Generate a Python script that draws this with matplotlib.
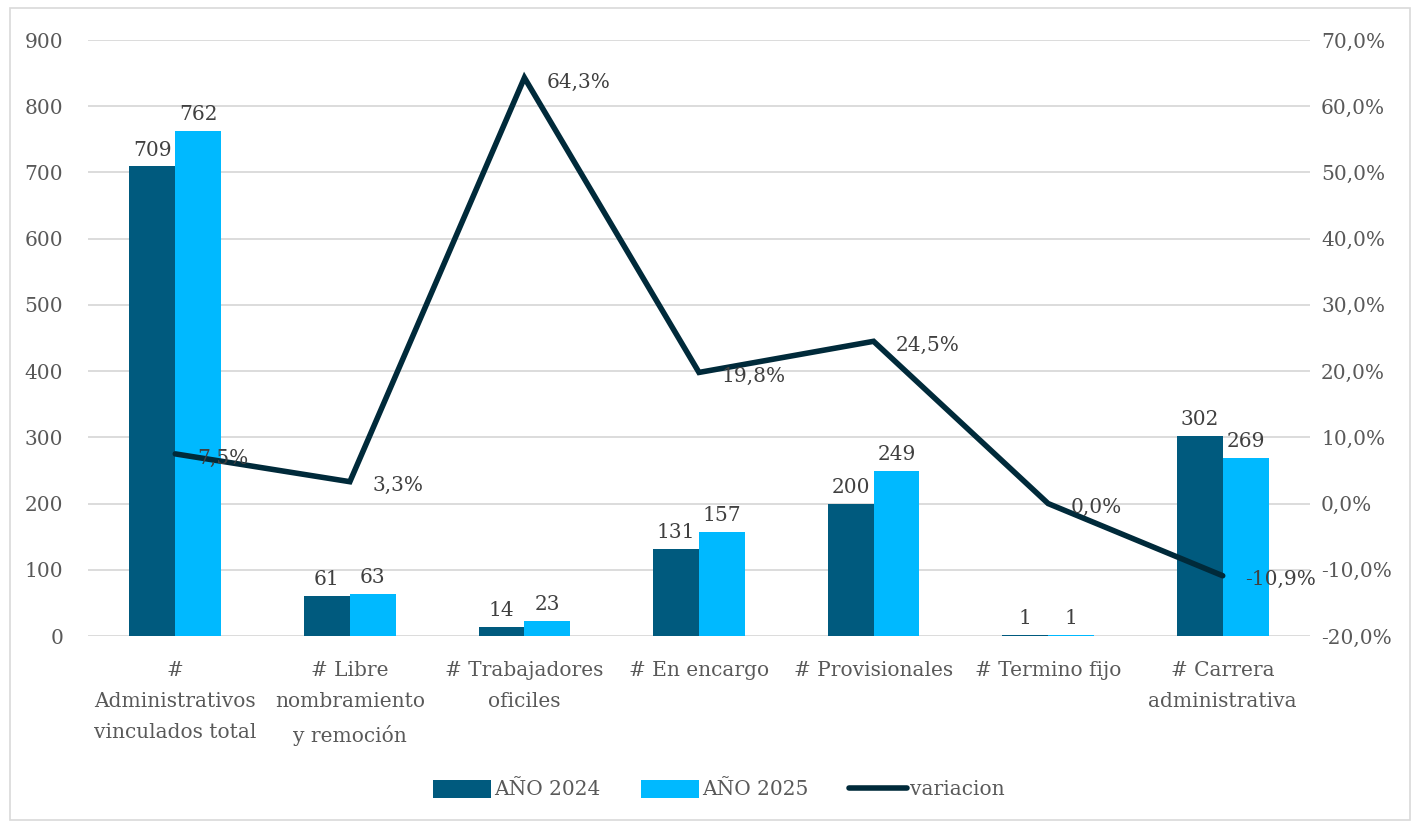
import matplotlib.pyplot as plt
import numpy as np
from matplotlib.patches import Rectangle

categories = [
    "#\nAdministrativos\nvinculados total",
    "# Libre\nnombramiento\ny remoción",
    "# Trabajadores\noficiles",
    "# En encargo",
    "# Provisionales",
    "# Termino fijo",
    "# Carrera\nadministrativa",
]
anio_2024 = [709, 61, 14, 131, 200, 1, 302]
anio_2025 = [762, 63, 23, 157, 249, 1, 269]
variacion = [7.5, 3.3, 64.3, 19.8, 24.5, 0.0, -10.9]

c_2024 = '#005A7E'
c_2025 = '#00B9FF'
c_line = '#002A3A'
c_text = '#595959'
c_grid = '#D9D9D9'
fs = 14.5

plt.rcParams['font.family'] = ['DejaVu Serif']
plt.rcParams['font.size'] = fs

fig = plt.figure(figsize=(14.15, 8.25), dpi=100)
fig.patches.append(Rectangle((10 / 1415, 5 / 825), 1400 / 1415, 812 / 825,
                             transform=fig.transFigure, fill=False,
                             edgecolor=c_grid, linewidth=1.2))

ax = fig.add_axes([88 / 1415, 1 - 636 / 825, 1222 / 1415, 596 / 825])
x = np.arange(len(categories))
w = 0.263

b1 = ax.bar(x - w / 2, anio_2024, w, color=c_2024, label='AÑO 2024', zorder=3)
b2 = ax.bar(x + w / 2, anio_2025, w, color=c_2025, label='AÑO 2025', zorder=3)
for bars, vals in ((b1, anio_2024), (b2, anio_2025)):
    for rect, v in zip(bars, vals):
        ax.annotate(str(v), (rect.get_x() + rect.get_width() / 2, v),
                    xytext=(0, 5), textcoords='offset points',
                    ha='center', va='bottom', color='#404040', fontsize=fs)

ax.set_xlim(-0.5, len(categories) - 0.5)
ax.set_ylim(0, 900)
ax.set_yticks(range(0, 901, 100))
ax.yaxis.grid(True, color=c_grid, linewidth=1.3, zorder=0)
ax.set_axisbelow(True)
for s in ax.spines.values():
    s.set_visible(False)
ax.tick_params(axis='both', length=0, colors=c_text, labelsize=fs)
ax.tick_params(axis='y', pad=18)
ax.set_xticks(x)
ax.set_xticklabels(categories, linespacing=1.8)
ax.tick_params(axis='x', pad=18)

ax2 = ax.twinx()
ax2.set_ylim(-20, 70)
ax2.set_yticks(range(-20, 71, 10))
ax2.set_yticklabels([f"{t:.1f}%".replace('.', ',') for t in range(-20, 71, 10)])
for s in ax2.spines.values():
    s.set_visible(False)
ax2.tick_params(axis='y', length=0, colors=c_text, labelsize=fs, pad=8)
ln, = ax2.plot(x, variacion, color=c_line, linewidth=4, label='variacion',
               solid_capstyle='round', solid_joinstyle='miter', zorder=4)
for xi, v in zip(x, variacion):
    ax2.annotate(f"{v:.1f}%".replace('.', ','), (xi, v), xytext=(16, -3),
                 textcoords='offset points', ha='left', va='center',
                 color='#404040', fontsize=fs, zorder=5)

handles = [b1, b2, ln]
fig.legend(handles, ['AÑO 2024', 'AÑO 2025', 'variacion'], loc='center',
           bbox_to_anchor=(0.508, 0.043), ncol=3, frameon=False,
           handlelength=2.9, handleheight=1.0, handletextpad=0.15,
           columnspacing=2.0, labelcolor=c_text, fontsize=fs)

fig.savefig('out.png', dpi=100)
